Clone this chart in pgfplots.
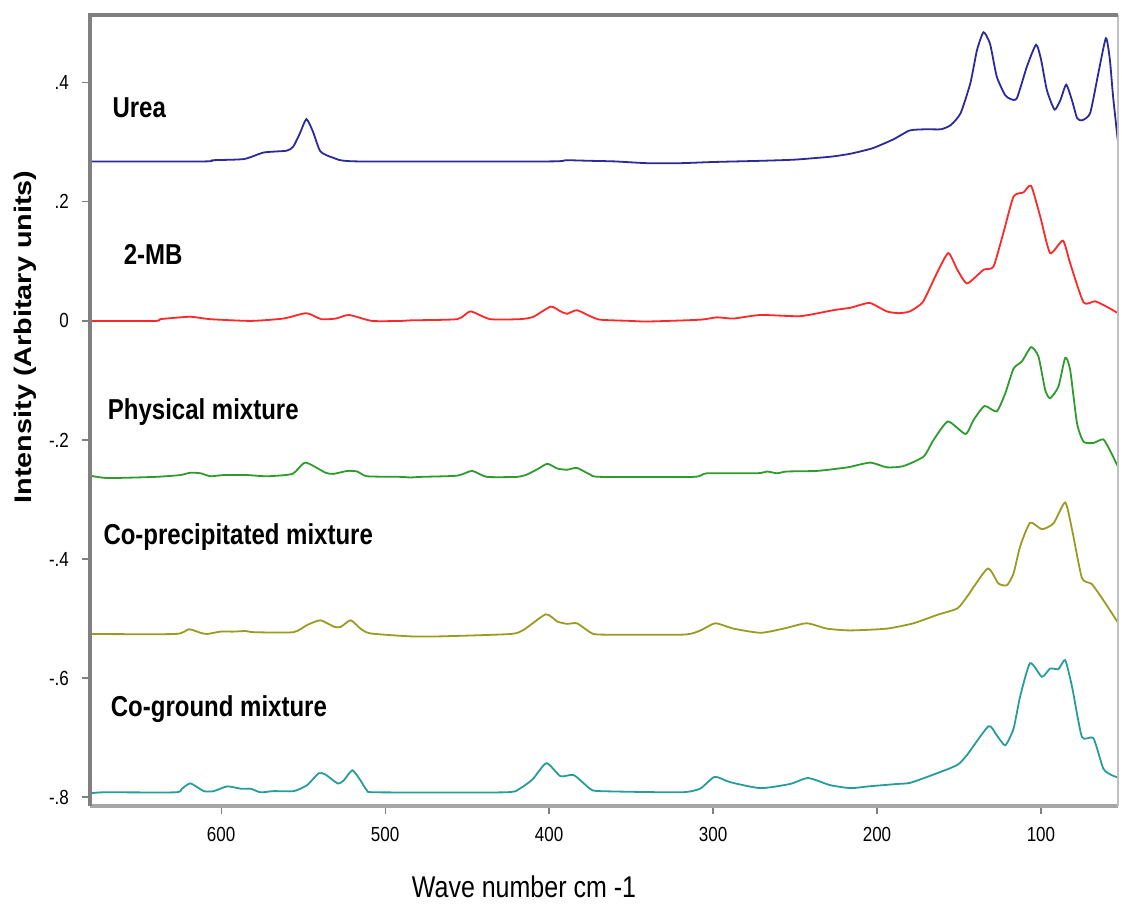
\documentclass[border=0pt]{standalone}
\usepackage{fontspec}
\setmainfont{Liberation Sans}
\usepackage{graphicx}
\usepackage{pgfplots}
\pgfplotsset{compat=1.18}
\definecolor{cblue}{RGB}{42,42,154}
\definecolor{cred}{RGB}{255,40,40}
\definecolor{cgreen}{RGB}{45,155,45}
\definecolor{colive}{RGB}{155,155,35}
\definecolor{cteal}{RGB}{40,155,155}
\definecolor{frame}{RGB}{128,128,128}
\newcommand{\vs}[1]{\scalebox{1}[1.2]{#1}}
\begin{document}
\begin{tikzpicture}
\begin{axis}[at={(0,0)}, anchor=south west, scale only axis,
  width=514pt, height=395.5pt,
  x dir=reverse, xmin=53, xmax=680, ymin=-0.815, ymax=0.514,
  axis line style={draw=none},
  tick align=outside, xtick pos=bottom, ytick pos=left,
  xtick={100,200,300,400,500,600},
  xticklabels={\vs{100},\vs{200},\vs{300},\vs{400},\vs{500},\vs{600}},
  ytick={-0.8,-0.6,-0.4,-0.2,0,0.2,0.4},
  yticklabels={\vs{-.8},\vs{-.6},\vs{-.4},\vs{-.2},\vs{0},\vs{.2},\vs{.4}},
  major tick length=4pt,
  tick style={frame, line width=0.6pt},
  tick label style={font=\fontsize{8.5}{10}\selectfont},
  xticklabel style={yshift=-3pt},
  yticklabel style={xshift=-3pt},
  clip=false,
  every axis plot/.append style={line width=0.9pt, smooth, tension=0.35},
]
\addplot[cblue] coordinates {(680,0.268) (610,0.268) (605,0.270) (586,0.272) (574,0.283) (560,0.286) (556,0.293) (552,0.315) (548,0.339) (544,0.318) (539.5,0.285) (531.5,0.274) (517,0.268) (400,0.268) (390,0.270) (375,0.269) (360,0.268) (340,0.265) (320,0.265) (300,0.267) (271,0.269) (250,0.271) (228,0.276) (216,0.281) (204,0.289) (200,0.293) (190,0.305) (180,0.320) (170,0.322) (161,0.322) (155,0.329) (149,0.349) (143,0.400) (139,0.455) (135,0.485) (131,0.465) (127,0.411) (122,0.380) (118.7,0.373) (114.7,0.374) (108.6,0.427) (103,0.464) (100,0.440) (96.4,0.388) (91.7,0.355) (88,0.372) (84.6,0.397) (81,0.370) (78,0.341) (75,0.337) (70,0.349) (65,0.416) (60.4,0.475) (58,0.440) (56,0.377) (53,0.300)};
\addplot[cred] coordinates {(680,0.0) (640,0.0) (637,0.003) (619,0.007) (607,0.003) (582,0.0) (562,0.004) (548,0.013) (539,0.003) (530,0.004) (522,0.010) (508,0.0) (490,0.0) (484,0.001) (456,0.003) (448,0.016) (436,0.003) (417.5,0.003) (409.5,0.007) (399,0.024) (393,0.016) (389,0.012) (383,0.018) (375,0.008) (368.7,0.002) (350,0.0) (340,-0.001) (308,0.002) (297.6,0.006) (287.6,0.004) (271,0.010) (246.8,0.008) (226.7,0.018) (216.4,0.022) (210,0.027) (204,0.030) (194,0.016) (187,0.013) (180,0.016) (172,0.032) (163.5,0.080) (156.5,0.114) (151,0.086) (145,0.063) (135,0.086) (129,0.091) (123,0.147) (116.7,0.209) (110.6,0.216) (106,0.227) (100.4,0.175) (94.4,0.114) (86.6,0.135) (82.2,0.097) (74,0.031) (67,0.033) (60,0.024) (53,0.013)};
\addplot[cgreen] coordinates {(680,-0.260) (669,-0.264) (640,-0.262) (625,-0.259) (618.7,-0.255) (612.6,-0.256) (606.5,-0.261) (598.6,-0.259) (584,-0.259) (572,-0.261) (556.6,-0.257) (548.6,-0.238) (536.4,-0.255) (531.5,-0.257) (523,-0.252) (517,-0.253) (511,-0.261) (490.7,-0.262) (484.6,-0.263) (478,-0.262) (456,-0.260) (447,-0.252) (438,-0.262) (419.5,-0.262) (413.4,-0.258) (407,-0.249) (401,-0.240) (395,-0.248) (389,-0.250) (383,-0.247) (375,-0.258) (368.7,-0.262) (312,-0.262) (303.7,-0.256) (273,-0.256) (267,-0.253) (261,-0.256) (255,-0.253) (236.6,-0.252) (220.5,-0.247) (216,-0.245) (204,-0.238) (194,-0.246) (184,-0.244) (171.6,-0.228) (165.5,-0.200) (156.7,-0.169) (146,-0.190) (141,-0.166) (134.4,-0.143) (127,-0.152) (121.8,-0.122) (116.7,-0.080) (111.6,-0.068) (106,-0.044) (101.5,-0.060) (97.4,-0.116) (94.4,-0.130) (89.3,-0.110) (85.2,-0.062) (82.2,-0.082) (78,-0.172) (74,-0.203) (68,-0.205) (62,-0.199) (58,-0.217) (53,-0.245)};
\addplot[colive] coordinates {(680,-0.526) (628,-0.526) (619.7,-0.518) (612.6,-0.524) (608.5,-0.526) (600.4,-0.522) (592.5,-0.522) (585,-0.521) (580,-0.523) (556,-0.523) (547.6,-0.511) (539.5,-0.503) (531,-0.514) (527,-0.514) (521,-0.503) (515,-0.517) (509,-0.525) (484.6,-0.530) (466.3,-0.530) (423.6,-0.526) (415.5,-0.519) (402,-0.493) (395,-0.505) (389,-0.509) (383,-0.508) (375,-0.523) (368.7,-0.527) (318,-0.527) (307.7,-0.520) (298.6,-0.508) (287.5,-0.517) (271,-0.524) (257,-0.517) (242.9,-0.508) (230.5,-0.517) (216.4,-0.520) (194,-0.517) (177.7,-0.508) (163.4,-0.494) (151,-0.483) (145,-0.463) (132.5,-0.416) (126,-0.441) (120.7,-0.444) (116.7,-0.424) (112.7,-0.379) (106.6,-0.339) (99.4,-0.350) (92.3,-0.340) (85.2,-0.305) (81,-0.351) (75,-0.432) (69,-0.442) (62,-0.469) (53,-0.507)};
\addplot[cteal] coordinates {(680,-0.794) (671.8,-0.792) (628,-0.792) (624,-0.786) (618.7,-0.777) (610.6,-0.790) (604.5,-0.790) (596.3,-0.782) (588,-0.786) (582,-0.786) (576,-0.792) (568,-0.790) (555.7,-0.790) (547.6,-0.780) (540.5,-0.760) (536.4,-0.762) (529,-0.777) (525.2,-0.772) (520,-0.755) (515,-0.772) (511,-0.789) (505,-0.792) (427,-0.792) (418,-0.786) (410,-0.770) (401.6,-0.743) (393,-0.765) (385,-0.763) (375,-0.786) (369,-0.790) (320,-0.792) (308,-0.786) (299,-0.766) (289.5,-0.775) (271,-0.785) (253,-0.778) (242,-0.768) (228.5,-0.780) (216,-0.785) (205,-0.782) (187.8,-0.778) (179.7,-0.776) (163.4,-0.760) (151,-0.746) (145,-0.729) (132,-0.681) (127,-0.696) (121.8,-0.713) (116.7,-0.685) (112.7,-0.631) (106.6,-0.575) (99.4,-0.598) (94.4,-0.584) (89.3,-0.585) (85.2,-0.570) (81,-0.615) (75,-0.699) (68,-0.701) (62,-0.752) (57,-0.763) (53,-0.767)};
% frame
\draw[frame!70, line width=2.2pt] (rel axis cs:0,0) -- (rel axis cs:1,0);
\draw[frame!50, line width=0.6pt] (rel axis cs:1,0) -- (rel axis cs:1,1);
\draw[frame, line width=2.2pt] (rel axis cs:0,0) -- (rel axis cs:0,1) -- (rel axis cs:1,1);
% series labels
\begin{scope}[every node/.style={anchor=base west, inner sep=0pt, font=\fontsize{12}{14}\selectfont\bfseries}]
\node at (axis cs:666.5,0.341) {\vs{Urea}};
\node at (axis cs:659.6,0.094) {\vs{2-MB}};
\node at (axis cs:669.3,-0.166) {\vs{Physical mixture}};
\node at (axis cs:672,-0.375) {\vs{Co-precipitated mixture}};
\node at (axis cs:667.5,-0.665) {\vs{Co-ground mixture}};
\end{scope}
\node[rotate=90, anchor=center, inner sep=0pt, font=\fontsize{12}{14}\selectfont\bfseries] at (rel axis cs:-0.0632,0.593) {\scalebox{1.2}[1]{Intensity (Arbitary units)}};
\node[anchor=center, inner sep=0pt, font=\fontsize{12.5}{15}\selectfont] at (rel axis cs:0.4222,-0.1024) {\vs{Wave number cm -1}};
\end{axis}
\pgfresetboundingbox
\useasboundingbox (-45pt,-51.5pt) rectangle (516pt,403pt);
\end{tikzpicture}
\end{document}
